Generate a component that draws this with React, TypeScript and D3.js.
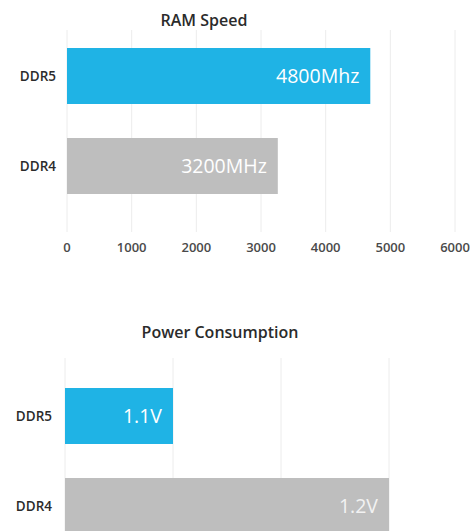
import * as d3 from "d3";

// RAM speed panel
const RAM_CATEGORIES = ["DDR5", "DDR4"];
const RAM_SPEED = [4690, 3260]; // bar lengths as drawn
const RAM_LABELS = ["4800Mhz", "3200MHz"];
const RAM_TICKS = [0, 1000, 2000, 3000, 4000, 5000, 6000];

// power panel
const POWER_CATEGORIES = ["DDR5", "DDR4"];
const POWER_VOLTS = [1.1, 1.2];
const POWER_LABELS = ["1.1V", "1.2V"];
const POWER_TICKS = [1.05, 1.1, 1.15, 1.2];

const BLUE = "#1fb3e5";
const GRAY = "#bebebe";
const FONT = "'Open Sans', 'Noto Sans', sans-serif";

function RamPanel() {
  const x = d3.scaleLinear().domain([0, 6000]).range([67, 455]);
  const y = d3
    .scaleBand<string>()
    .domain(RAM_CATEGORIES)
    .range([31, 211])
    .paddingInner(0.378)
    .paddingOuter(0.189);
  const colors = [BLUE, GRAY];

  return (
    <g>
      <text x={204} y={26} textAnchor="middle" fontSize={16} fontWeight={600} fill="#2b2b2b">
        RAM Speed
      </text>
      {RAM_TICKS.map((t) => (
        <line key={t} x1={x(t)} x2={x(t)} y1={30} y2={232} stroke="#ececec" strokeWidth={1} />
      ))}
      {RAM_CATEGORIES.map((c, i) => (
        <g key={c}>
          <rect
            x={x(0)}
            y={y(c)}
            width={x(RAM_SPEED[i]) - x(0)}
            height={y.bandwidth()}
            fill={colors[i]}
          />
          <text
            x={x(RAM_SPEED[i]) - 11}
            y={(y(c) ?? 0) + y.bandwidth() / 2}
            dy="0.35em"
            textAnchor="end"
            fontSize={19.5}
            fill="#ffffff"
          >
            {RAM_LABELS[i]}
          </text>
          <text
            x={56}
            y={(y(c) ?? 0) + y.bandwidth() / 2}
            dy="0.35em"
            textAnchor="end"
            fontSize={13.5}
            fontWeight={600}
            fill="#2b2b2b"
          >
            {c}
          </text>
        </g>
      ))}
      {RAM_TICKS.map((t) => (
        <text
          key={t}
          x={x(t)}
          y={247}
          dy="0.35em"
          textAnchor="middle"
          fontSize={13}
          fontWeight={600}
          fill="#4a4a4a"
        >
          {t}
        </text>
      ))}
    </g>
  );
}

function PowerPanel() {
  const x = d3.scaleLinear().domain([1.05, 1.2]).range([65, 389]);
  const y = d3
    .scaleBand<string>()
    .domain(POWER_CATEGORIES)
    .range([371, 551])
    .paddingInner(0.378)
    .paddingOuter(0.189);
  const colors = [BLUE, GRAY];
  const labelColors = ["#ffffff", "#f2f2f2"];

  return (
    <g>
      <text x={220} y={338} textAnchor="middle" fontSize={16} fontWeight={600} fill="#2b2b2b">
        Power Consumption
      </text>
      {POWER_TICKS.map((t) => (
        <line key={t} x1={x(t)} x2={x(t)} y1={358} y2={531} stroke="#ececec" strokeWidth={1} />
      ))}
      {POWER_CATEGORIES.map((c, i) => (
        <g key={c}>
          <rect
            x={x(1.05)}
            y={y(c)}
            width={x(POWER_VOLTS[i]) - x(1.05)}
            height={y.bandwidth()}
            fill={colors[i]}
          />
          <text
            x={x(POWER_VOLTS[i]) - 11}
            y={(y(c) ?? 0) + y.bandwidth() / 2}
            dy="0.35em"
            textAnchor="end"
            fontSize={19.5}
            fill={labelColors[i]}
          >
            {POWER_LABELS[i]}
          </text>
          <text
            x={52}
            y={(y(c) ?? 0) + y.bandwidth() / 2}
            dy="0.35em"
            textAnchor="end"
            fontSize={13.5}
            fontWeight={600}
            fill="#2b2b2b"
          >
            {c}
          </text>
        </g>
      ))}
    </g>
  );
}

export default function App() {
  return (
    <div style={{ position: "fixed", left: 0, top: 0 }}>
      <svg width={474} height={531} fontFamily={FONT} style={{ display: "block", background: "#fff" }}>
        <RamPanel />
        <PowerPanel />
      </svg>
    </div>
  );
}
